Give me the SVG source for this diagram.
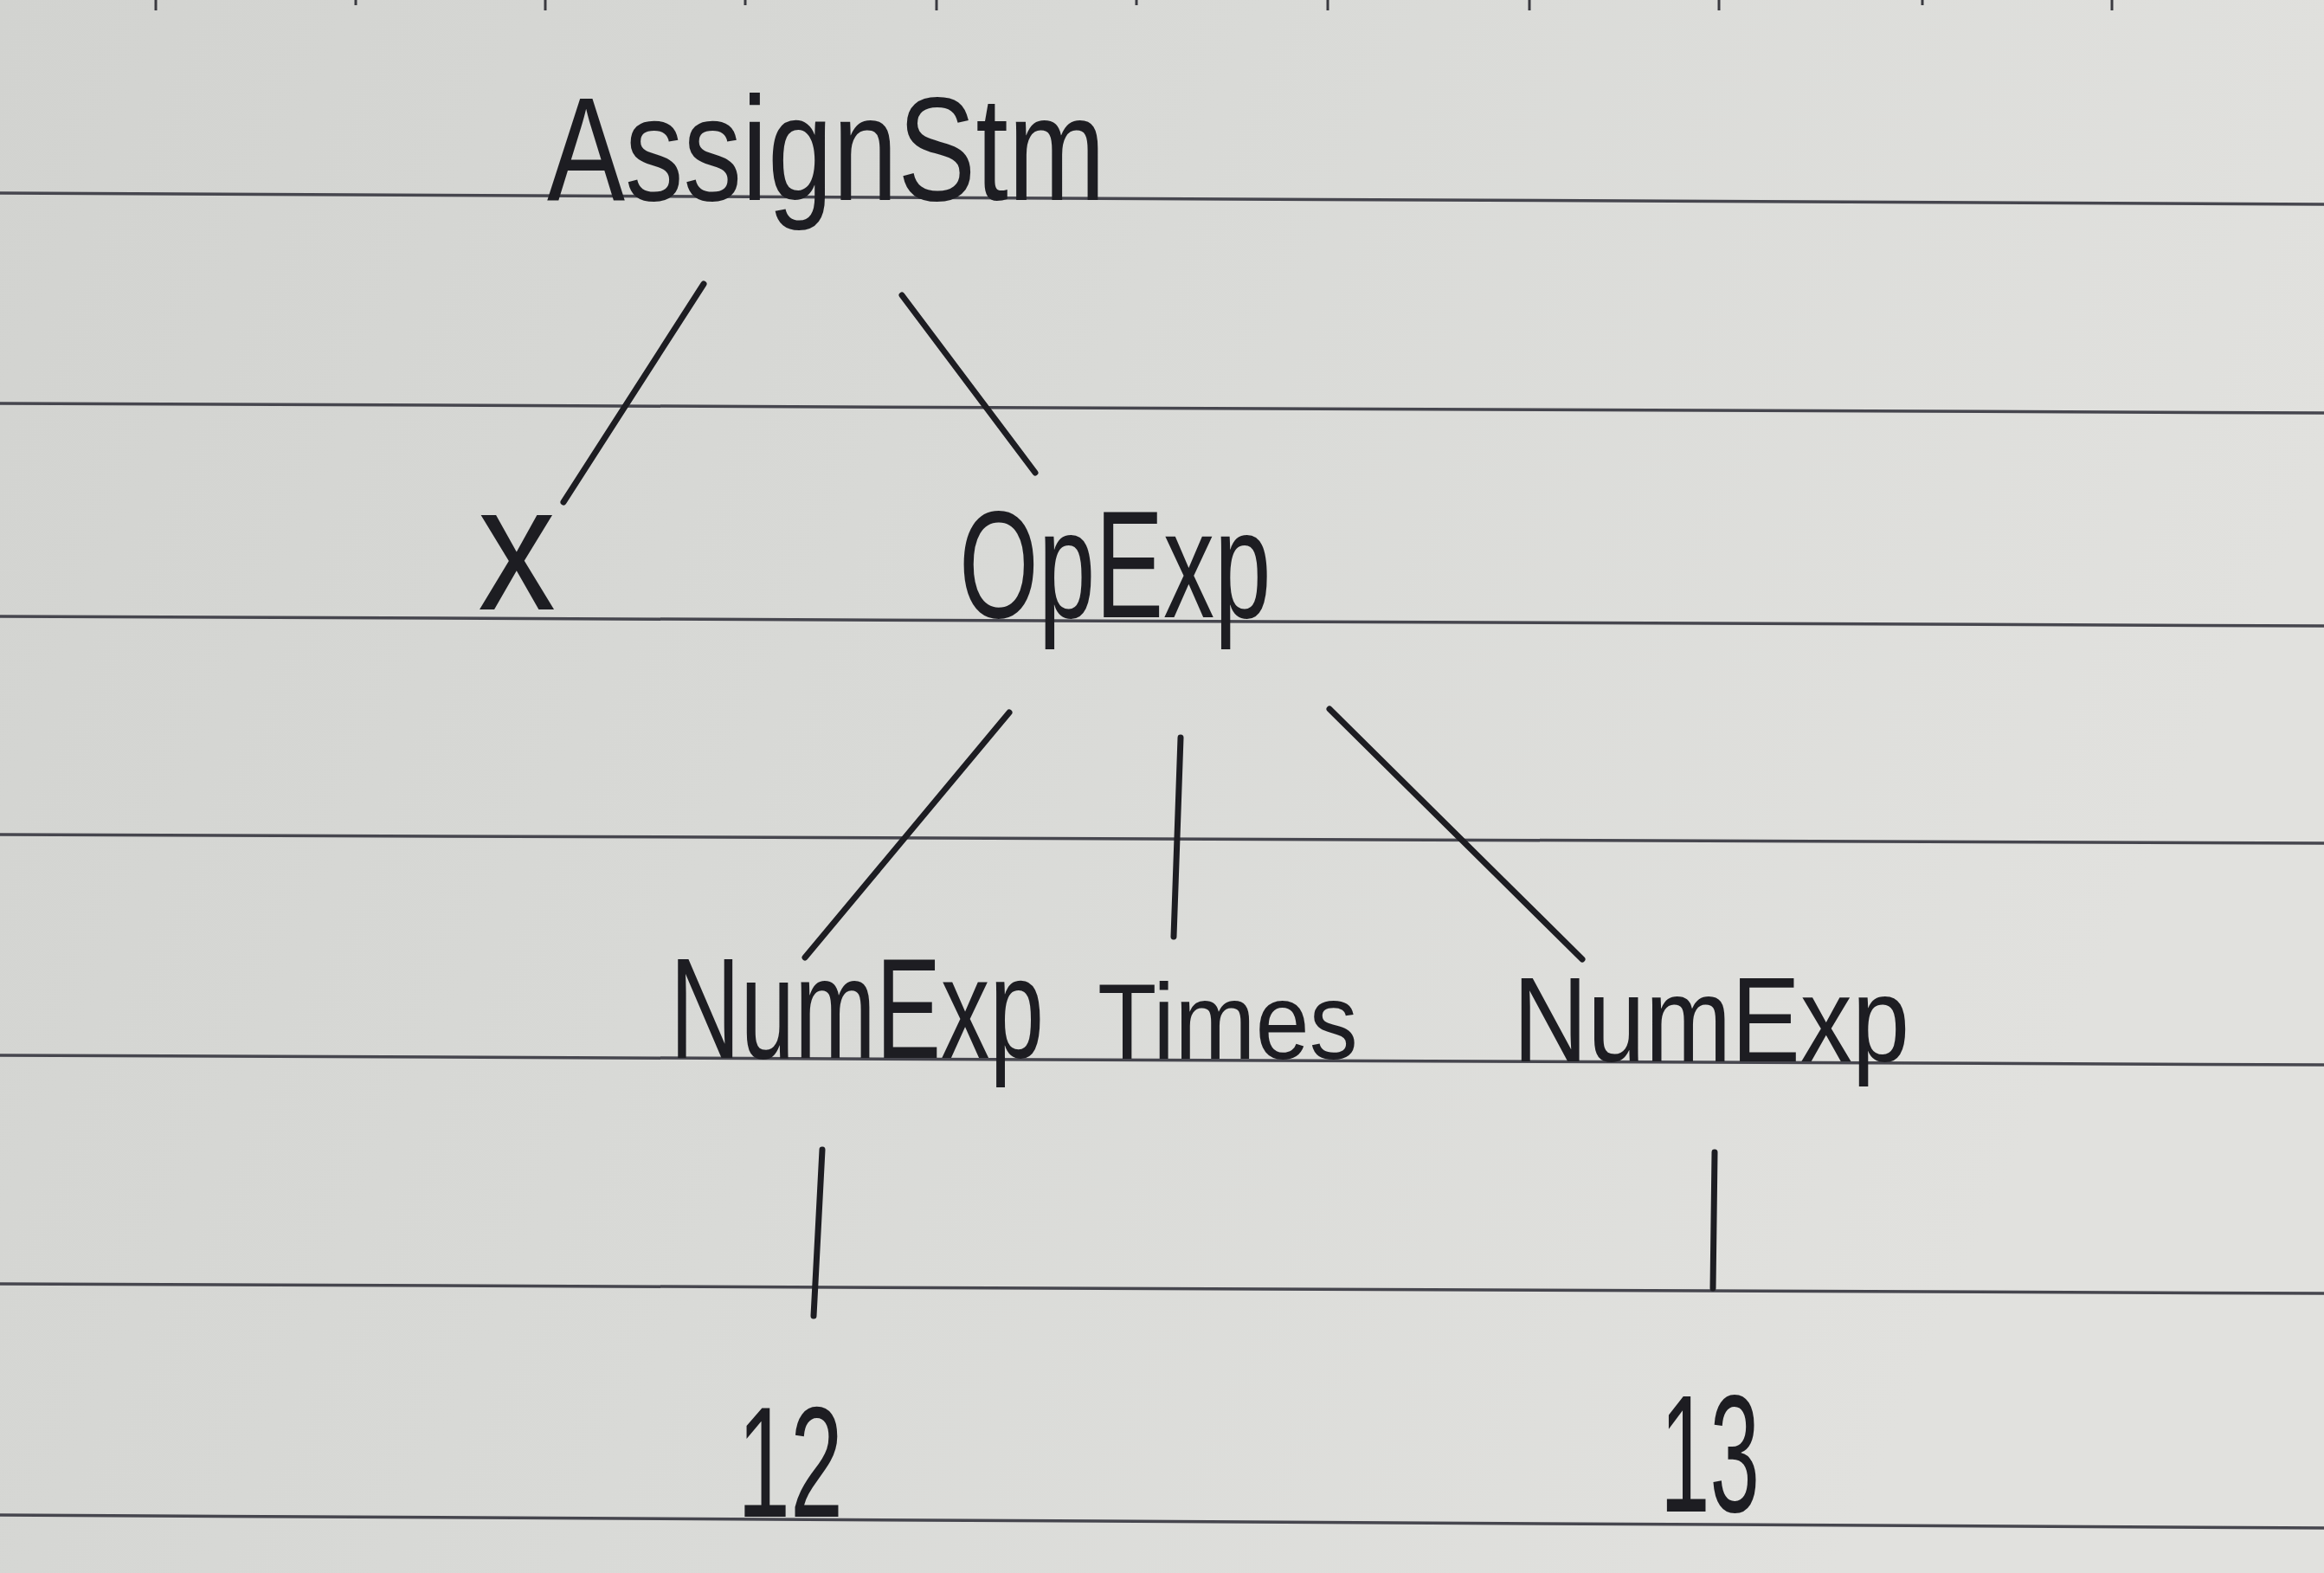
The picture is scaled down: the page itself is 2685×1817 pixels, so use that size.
<svg xmlns="http://www.w3.org/2000/svg" width="2685" height="1817" viewBox="0 0 2685 1817">
<defs>
<linearGradient id="paper" x1="0" y1="0" x2="1" y2="0.3">
<stop offset="0" stop-color="#d2d3d0"/>
<stop offset="0.5" stop-color="#d9dad7"/>
<stop offset="1" stop-color="#e1e1de"/>
</linearGradient>
<style>
.rule{stroke:#46464e;stroke-width:3.5;fill:none}
.tick{stroke:#3a3a40;stroke-width:3}
.edge{stroke:#1d1d22;stroke-width:7;stroke-linecap:round;fill:none}
.lbl{font-family:"Liberation Sans","DejaVu Sans",sans-serif;fill:#1d1d22}
</style>
</defs>
<rect width="2685" height="1817" fill="url(#paper)"/>
<g id="paper-rules">
<line class="rule" x1="0" y1="223" x2="2685" y2="236"/>
<line class="rule" x1="0" y1="466" x2="2685" y2="477"/>
<line class="rule" x1="0" y1="712" x2="2685" y2="723"/>
<line class="rule" x1="0" y1="964" x2="2685" y2="974"/>
<line class="rule" x1="0" y1="1219" x2="2685" y2="1230"/>
<line class="rule" x1="0" y1="1483" x2="2685" y2="1494"/>
<line class="rule" x1="0" y1="1750" x2="2685" y2="1765"/>
<line class="tick" x1="180" y1="0" x2="180" y2="12"/>
<line class="tick" x1="411" y1="0" x2="411" y2="6"/>
<line class="tick" x1="630" y1="0" x2="630" y2="12"/>
<line class="tick" x1="861" y1="0" x2="861" y2="6"/>
<line class="tick" x1="1082" y1="0" x2="1082" y2="12"/>
<line class="tick" x1="1313" y1="0" x2="1313" y2="6"/>
<line class="tick" x1="1534" y1="0" x2="1534" y2="12"/>
<line class="tick" x1="1767" y1="0" x2="1767" y2="12"/>
<line class="tick" x1="1986" y1="0" x2="1986" y2="12"/>
<line class="tick" x1="2221" y1="0" x2="2221" y2="6"/>
<line class="tick" x1="2440" y1="0" x2="2440" y2="12"/>
</g>
<g id="connectors">
<line class="edge" x1="813" y1="328" x2="651" y2="580"/>
<line class="edge" x1="1042" y1="341" x2="1196" y2="546"/>
<line class="edge" x1="1166" y1="823" x2="930" y2="1106"/>
<line class="edge" x1="1364" y1="852" x2="1356" y2="1082"/>
<line class="edge" x1="1536" y1="819" x2="1828" y2="1108"/>
<line class="edge" x1="950" y1="1328" x2="940" y2="1520"/>
<line class="edge" x1="1981" y1="1331" x2="1979" y2="1488"/>
</g>
<g id="node-assignstm"><text class="lbl" font-size="135" transform="translate(632,231) scale(1,1.27)">AssignStm</text></g>
<g id="node-x"><text class="lbl" font-size="180" transform="translate(552,704) scale(1,1.14)">x</text></g>
<g id="node-opexp"><text class="lbl" font-size="118" transform="translate(1108,713) scale(1,1.49)">OpExp</text></g>
<g id="node-numexp-left"><text class="lbl" font-size="112.7" transform="translate(774,1222) scale(1,1.465)">NumExp</text></g>
<g id="node-times"><text class="lbl" font-size="112" transform="translate(1268,1223) scale(1,1.116)">Times</text></g>
<g id="node-numexp-right"><text class="lbl" font-size="119.5" transform="translate(1748,1226) scale(1,1.17)">NumExp</text></g>
<g id="node-12"><text class="lbl" font-size="109.7" transform="translate(852,1752) scale(1,1.66)">12</text></g>
<g id="node-13"><text class="lbl" font-size="103.4" transform="translate(1918,1746) scale(1,1.86)">13</text></g>
</svg>
